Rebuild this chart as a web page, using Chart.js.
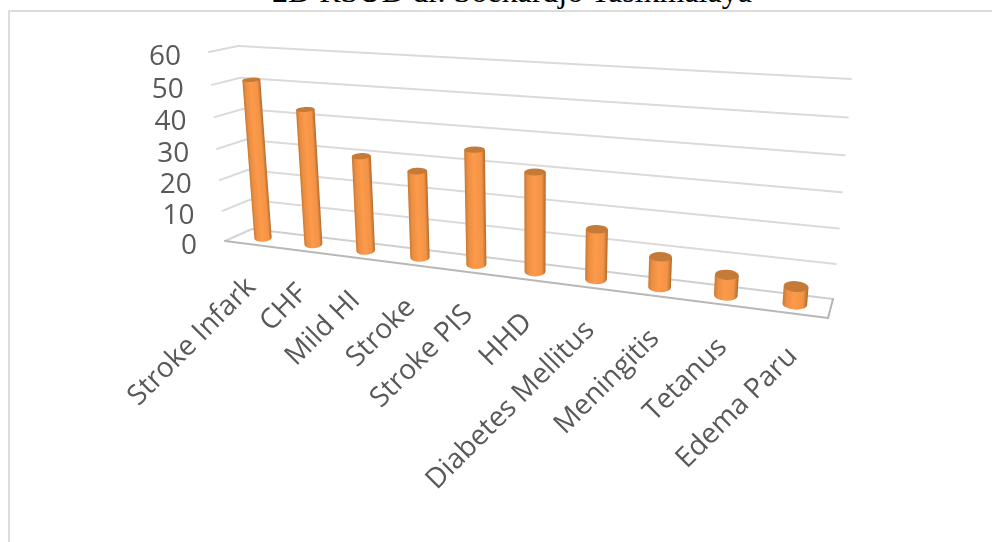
<!DOCTYPE html>
<html>
<head>
<meta charset="utf-8">
<title>Diagnosa</title>
<script src="https://cdn.jsdelivr.net/npm/chart.js@4"></script>
<style>
    html, body { margin: 0; padding: 0; background: #fff; overflow: hidden; }
    #wrap { position: relative; width: 992px; height: 542px; overflow: hidden; }
    #judul { position: absolute; left: 0; width: 1024px; top: -27px; text-align: center;
             font: 32px "Liberation Serif", serif; color: #000; white-space: nowrap; }
    #bingkai { position: absolute; left: 8px; top: 10px; width: 1000px; height: 600px;
               border-left: 2px solid #dcdcdc; border-top: 2px solid #dcdcdc; }
    canvas { position: absolute; left: 0; top: 0; }
</style>
</head>
<body>
<div id="wrap">
    <div id="judul">2D RSUD dr. Soekardjo Tasikmalaya</div>
    <div id="bingkai"></div>
    <canvas id="myChart" width="992" height="542"></canvas>
</div>
<script>
const categories = ['Stroke Infark', 'CHF', 'Mild HI', 'Stroke', 'Stroke PIS', 'HHD', 'Diabetes Mellitus', 'Meningitis', 'Tetanus', 'Edema Paru'];
const jumlahPasien = [51, 43, 30, 27, 35, 30, 15, 9, 6, 5];
const yMax = 60;
const yStep = 10;

// corners of the back wall and of the front plane, order: bottom-left, bottom-right, top-right, top-left
const dindingBelakang = [[252, 229], [833, 299], [851, 79], [238, 46]];
const bidangDepan = [[225, 241], [828, 318], [847, 89], [209, 52]];

// unit square -> quad
function buatHomografi(q) {
    let [p0, p1, p2, p3] = q;
    let dx1 = p1[0] - p2[0], dx2 = p3[0] - p2[0], sx = p0[0] - p1[0] + p2[0] - p3[0];
    let dy1 = p1[1] - p2[1], dy2 = p3[1] - p2[1], sy = p0[1] - p1[1] + p2[1] - p3[1];
    let det = dx1 * dy2 - dx2 * dy1;
    let g = (sx * dy2 - dx2 * sy) / det;
    let h = (dx1 * sy - sx * dy1) / det;
    let a = p1[0] - p0[0] + g * p1[0], b = p3[0] - p0[0] + h * p3[0], c = p0[0];
    let d = p1[1] - p0[1] + g * p1[1], e = p3[1] - p0[1] + h * p3[1], f = p0[1];
    return function (u, v) {
        let w = g * u + h * v + 1;
        return [(a * u + b * v + c) / w, (d * u + e * v + f) / w];
    };
}
const hBelakang = buatHomografi(dindingBelakang);
const hDepan = buatHomografi(bidangDepan);

// u: 0..1 along the categories, v: 0..1 up the value axis, d: 0 back, 1 front
function proyeksi(u, v, d) {
    let a = hBelakang(u, v), b = hDepan(u, v);
    return [a[0] + (b[0] - a[0]) * d, a[1] + (b[1] - a[1]) * d];
}

// plain chart pixel -> projected pixel
function dariPiksel(chart, px, py, d) {
    let area = chart.chartArea;
    let u = (px - area.left) / (area.right - area.left);
    let v = (area.bottom - py) / (area.bottom - area.top);
    return proyeksi(u, v, d);
}

class CylinderElement extends Chart.BarElement {
    draw(ctx) {
        let chart = Chart.getChart(ctx.canvas);
        let { x, y, base, width } = this.getProps(['x', 'y', 'base', 'width']);
        let c = dariPiksel(chart, x, y, 0.5);
        let b = dariPiksel(chart, x, base, 0.5);
        let rTop = (dariPiksel(chart, x + width / 2, y, 0.5)[0] - dariPiksel(chart, x - width / 2, y, 0.5)[0]) / 2;
        let rBase = (dariPiksel(chart, x + width / 2, base, 0.5)[0] - dariPiksel(chart, x - width / 2, base, 0.5)[0]) / 2;
        // ellipse height follows the depth of the floor at that height
        let tebal = 0.3;
        let ryTop = Math.abs(dariPiksel(chart, x, y, 0.5 + tebal)[1] - dariPiksel(chart, x, y, 0.5 - tebal)[1]) / 2;
        let ryBase = Math.abs(dariPiksel(chart, x, base, 0.5 + tebal)[1] - dariPiksel(chart, x, base, 0.5 - tebal)[1]) / 2;
        let rot = Math.atan2(b[0] - c[0], b[1] - c[1]) * -1;
        let cosR = Math.cos(rot), sinR = Math.sin(rot);

        ctx.save();
        // shading runs across the cylinder, perpendicular to its lean
        let tengah = [(b[0] + c[0]) / 2, (b[1] + c[1]) / 2];
        let r = (rTop + rBase) / 2;
        let grad = ctx.createLinearGradient(tengah[0] - r * cosR, tengah[1] - r * sinR, tengah[0] + r * cosR, tengah[1] + r * sinR);
        grad.addColorStop(0, '#c67a35');
        grad.addColorStop(0.15, '#ec8e41');
        grad.addColorStop(0.45, '#fd9a4c');
        grad.addColorStop(0.82, '#f39345');
        grad.addColorStop(1, '#b06a2d');
        ctx.fillStyle = grad;
        ctx.beginPath();
        ctx.moveTo(c[0] - rTop * cosR, c[1] - rTop * sinR);
        ctx.lineTo(c[0] + rTop * cosR, c[1] + rTop * sinR);
        ctx.lineTo(b[0] + rBase * cosR, b[1] + rBase * sinR);
        ctx.ellipse(b[0], b[1], rBase, ryBase, rot, 0, Math.PI);
        ctx.closePath();
        ctx.fill();

        ctx.fillStyle = '#c57a37';
        ctx.beginPath();
        ctx.ellipse(c[0], c[1], rTop, ryTop, rot, 0, Math.PI * 2);
        ctx.fill();
        ctx.restore();
    }
}
CylinderElement.id = 'cylinder';

class CylinderController extends Chart.BarController {}
CylinderController.id = 'cylinder';
CylinderController.defaults = Object.assign({}, Chart.BarController.defaults, { dataElementType: 'cylinder' });

Chart.register(CylinderElement, CylinderController);

// walls, floor and axis texts are drawn before the cylinders
const dindingPlugin = {
    id: 'dinding',
    beforeDatasetsDraw(chart) {
        let ctx = chart.ctx;
        let yScale = chart.scales.y, xScale = chart.scales.x;
        let garis = function (a, b, warna, lebar) {
            ctx.strokeStyle = warna;
            ctx.lineWidth = lebar;
            ctx.beginPath();
            ctx.moveTo(a[0], a[1]);
            ctx.lineTo(b[0], b[1]);
            ctx.stroke();
        };
        let left = chart.chartArea.left, right = chart.chartArea.right;

        ctx.save();
        ctx.lineCap = 'round';
        yScale.ticks.forEach(function (t) {
            let py = yScale.getPixelForValue(t.value);
            let kiriDepan = dariPiksel(chart, left, py, 1);
            let kiriBelakang = dariPiksel(chart, left, py, 0);
            let kananBelakang = dariPiksel(chart, right, py, 0);
            if (t.value === 0) {
                let kananDepan = dariPiksel(chart, right, py, 1);
                garis(kiriDepan, kiriBelakang, '#d4d4d4', 2);
                garis(kiriBelakang, kananBelakang, '#cfcfcf', 2);
                garis(kananBelakang, kananDepan, '#b4b4b4', 2);
                garis(kiriDepan, kananDepan, '#b8b8b8', 2);
            } else {
                garis(kiriDepan, kiriBelakang, '#dadada', 2);
                garis(kiriBelakang, kananBelakang, '#dadada', 2);
            }
            // value labels stand left of the side wall
            ctx.fillStyle = '#595959';
            ctx.font = '28px "Open Sans", sans-serif';
            ctx.textAlign = 'right';
            ctx.textBaseline = 'middle';
            ctx.fillText(String(t.value), kiriDepan[0] - 28, kiriDepan[1] + 5);
        });

        ctx.fillStyle = '#595959';
        ctx.font = '28px "Open Sans", sans-serif';
        ctx.textAlign = 'right';
        ctx.textBaseline = 'middle';
        categories.forEach(function (nama, i) {
            // category labels hang from the front edge of the floor
            let p = dariPiksel(chart, xScale.getPixelForValue(i), yScale.getPixelForValue(0), 1);
            ctx.save();
            ctx.translate(p[0] + 1.5, p[1] + 38.5);
            ctx.rotate(-Math.PI / 4);
            ctx.fillText(nama, 0, 0);
            ctx.restore();
        });
        ctx.restore();
    }
};

new Chart(document.getElementById('myChart'), {
    type: 'cylinder',
    data: {
        labels: categories,
        datasets: [{
            label: 'Jumlah',
            data: jumlahPasien,
            barPercentage: 0.35,
            categoryPercentage: 1,
            backgroundColor: '#f79646'
        }]
    },
    options: {
        responsive: false,
        animation: false,
        plugins: {
            legend: { display: false },
            tooltip: { enabled: false }
        },
        scales: {
            x: { display: false },
            y: {
                display: false,
                min: 0,
                max: yMax,
                ticks: { stepSize: yStep }
            }
        }
    },
    plugins: [dindingPlugin]
});
</script>
</body>
</html>
